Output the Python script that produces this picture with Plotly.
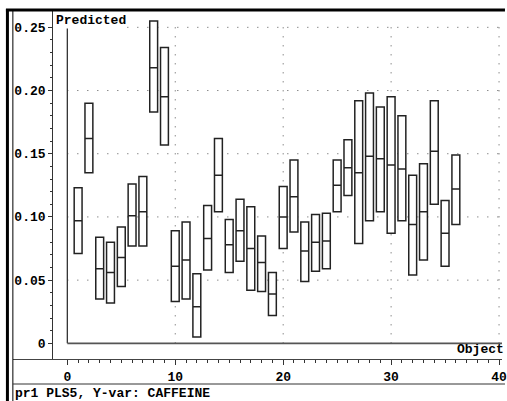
import plotly.graph_objects as go

# ---- data ----
objects = list(range(1, 37))
upper = [0.123, 0.190, 0.084, 0.080, 0.092, 0.126, 0.132, 0.255, 0.234, 0.089,
         0.096, 0.055, 0.109, 0.162, 0.098, 0.114, 0.108, 0.085, 0.056, 0.124,
         0.145, 0.096, 0.102, 0.103, 0.145, 0.161, 0.192, 0.198, 0.187, 0.195,
         0.180, 0.133, 0.142, 0.192, 0.113, 0.149]
predicted = [0.097, 0.162, 0.059, 0.056, 0.068, 0.101, 0.104, 0.218, 0.195, 0.061,
             0.066, 0.029, 0.083, 0.133, 0.078, 0.089, 0.075, 0.064, 0.039, 0.100,
             0.116, 0.073, 0.080, 0.081, 0.125, 0.139, 0.135, 0.148, 0.146, 0.141,
             0.138, 0.094, 0.104, 0.152, 0.087, 0.122]
lower = [0.071, 0.135, 0.035, 0.032, 0.045, 0.077, 0.077, 0.183, 0.157, 0.033,
         0.035, 0.005, 0.058, 0.104, 0.056, 0.065, 0.042, 0.041, 0.022, 0.075,
         0.088, 0.049, 0.057, 0.059, 0.104, 0.117, 0.079, 0.097, 0.104, 0.087,
         0.097, 0.054, 0.066, 0.110, 0.061, 0.094]

y_ticks = [0, 0.05, 0.10, 0.15, 0.20, 0.25]
y_ticktext = ["0", "0.05", "0.10", "0.15", "0.20", "0.25"]
x_ticks = [0, 10, 20, 30, 40]
x_ticktext = ["0", "10", "20", "30", "40"]
y_minor = [round(i * 0.01, 2) for i in range(1, 25) if i % 5 != 0]
x_minor = [i for i in range(1, 40) if i % 10 != 0]

W, H = 507, 401
FONT = dict(family="Liberation Mono, DejaVu Sans Mono, monospace", size=13, color="black", weight="bold")

def px_x(p):
    return p / W

def px_y(p):
    return 1 - p / H

fig = go.Figure()
fig.add_trace(go.Box(
    x=objects, q1=lower, median=predicted, q3=upper,
    lowerfence=lower, upperfence=upper,
    orientation="v", width=0.73, whiskerwidth=0,
    fillcolor="white", line=dict(color="#222222", width=1.5),
    boxpoints=False, hoverinfo="skip", showlegend=False,
))

shapes = []
# dotted grid
for v in y_ticks[1:]:
    shapes.append(dict(type="line", xref="x", yref="y", x0=0, x1=41, y0=v, y1=v,
                       line=dict(color="#555555", width=1, dash="1px,9px"), layer="below"))
for v in x_ticks[1:]:
    shapes.append(dict(type="line", xref="x", yref="y", x0=v, x1=v, y0=0, y1=0.25,
                       line=dict(color="#555555", width=1, dash="1px,8px"), layer="below"))
# inner frame (x=0 and y=0 lines)
shapes.append(dict(type="line", xref="x", yref="y", x0=0, x1=0, y0=0, y1=0.25,
                   line=dict(color="#333333", width=1.3)))
shapes.append(dict(type="line", xref="x", yref="y", x0=0, x1=41, y0=0, y1=0,
                   line=dict(color="#555555", width=1.6)))
# outer window frame
shapes += [
    dict(type="line", xref="paper", yref="paper", x0=px_x(6), x1=px_x(510), y0=px_y(10), y1=px_y(10),
         line=dict(color="black", width=3)),
    dict(type="line", xref="paper", yref="paper", x0=px_x(7.5), x1=px_x(7.5), y0=px_y(9), y1=px_y(402),
         line=dict(color="black", width=3)),
    dict(type="line", xref="paper", yref="paper", x0=px_x(13), x1=px_x(13), y0=px_y(11), y1=px_y(402),
         line=dict(color="black", width=1)),
    dict(type="line", xref="paper", yref="paper", x0=px_x(13), x1=px_x(510), y0=px_y(384), y1=px_y(384),
         line=dict(color="#333333", width=1)),
]

annotations = [
    dict(text="Predicted", xref="paper", yref="paper", x=px_x(56), y=px_y(20.5),
         xanchor="left", yanchor="middle", showarrow=False, font=FONT, bgcolor="white", borderpad=0),
    dict(text="Object", xref="paper", yref="paper", x=px_x(461), y=px_y(349),
         xanchor="left", yanchor="middle", showarrow=False, font=FONT, borderpad=0),
    dict(text="pr1 PLS5, Y-var: CAFFEINE", xref="paper", yref="paper", x=px_x(14), y=px_y(393),
         xanchor="left", yanchor="middle", showarrow=False, font=FONT, borderpad=0),
]

y_top_px, y_bot_px = 11, 359
y0_px, per_unit_y = 343.33, 1264.0
x0_px, per_unit_x = 68.0, 10.9

fig.update_layout(
    width=W, height=H, autosize=False,
    margin=dict(l=0, r=0, t=0, b=0, pad=0),
    paper_bgcolor="white", plot_bgcolor="white",
    showlegend=False, font=FONT,
    shapes=shapes, annotations=annotations,
    xaxis=dict(
        domain=[13 / W, 1], anchor="y",
        range=[(13 - x0_px) / per_unit_x, (W - x0_px) / per_unit_x],
        tickmode="array", tickvals=x_ticks, ticktext=x_ticktext,
        ticks="outside", ticklen=5, tickwidth=1, tickcolor="#333333",
        minor=dict(tickmode="array", tickvals=x_minor, ticks="outside", ticklen=3,
                   tickwidth=1, tickcolor="#333333", showgrid=False),
        showline=True, linecolor="#444444", linewidth=1,
        showgrid=False, zeroline=False, ticklabeloverflow="allow",
        tickfont=FONT, fixedrange=True,
    ),
    yaxis=dict(
        domain=[1 - y_bot_px / H, 1 - y_top_px / H], anchor="free", position=52.7 / W,
        range=[(y0_px - y_bot_px) / per_unit_y, (y0_px - y_top_px) / per_unit_y],
        tickmode="array", tickvals=y_ticks, ticktext=y_ticktext,
        ticks="outside", ticklen=4, tickwidth=1, tickcolor="#333333",
        minor=dict(tickmode="array", tickvals=y_minor, ticks="outside", ticklen=2,
                   tickwidth=1, tickcolor="#333333", showgrid=False),
        showline=True, linecolor="#333333", linewidth=1,
        showgrid=False, zeroline=False, ticklabeloverflow="allow",
        tickfont=FONT, fixedrange=True,
    ),
)

fig.write_html("out.html", config={"displayModeBar": False},
               post_script="document.body.style.margin='0';document.body.style.overflow='hidden';")
